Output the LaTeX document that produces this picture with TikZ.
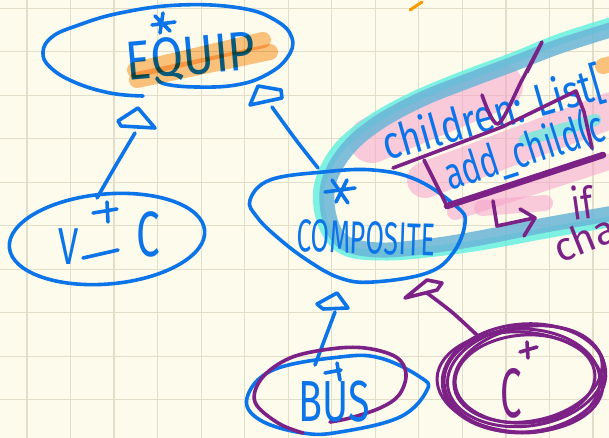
\documentclass[tikz,border=0pt]{standalone}
\usepackage{fontspec}
\setmainfont{Fira Sans}
\usetikzlibrary{calc}
\definecolor{paper}{HTML}{FDFBEC}
\definecolor{gridc}{HTML}{E2DECA}
\definecolor{pen}{HTML}{0C74E9}
\definecolor{plum}{HTML}{7C2186}
\definecolor{hlorange}{HTML}{FCC585}
\definecolor{hlpink}{HTML}{F7A3CB}
\definecolor{hlcyan}{HTML}{5EF0E0}
\definecolor{hlsteel}{HTML}{6BB5D7}
\tikzset{
  bluepen/.style={draw=pen, line width=3.6pt, line cap=round, line join=round},
  plumpen/.style={draw=plum, line width=3.6pt, line cap=round, line join=round},
  hilite/.style={line width=#1, line cap=round, line join=round},
  hand/.style={font=\fontsize{#1}{#1}\selectfont, inner sep=0pt},
}
\begin{document}
\begin{tikzpicture}[x=1pt,y=-1pt]
\useasboundingbox (0,0) rectangle (609,438);
\clip (0,0) rectangle (609,438);
% paper and grid
\fill[paper] (0,0) rectangle (609,438);
\foreach \i in {0,...,13} \draw[gridc, line width=1.2pt] ({27+43.54*\i},0) -- ++(0,438);
\foreach \j in {0,...,9} \draw[gridc, line width=1.2pt] (0,{8.3+43.5*\j}) -- ++(609,0);

% highlighter strokes behind the note on COMPOSITE
\begin{scope}[opacity=0.55]
  \draw[hlpink, hilite=46pt] (372,140) -- (500,86);
  \draw[hlpink, hilite=36pt] (425,180) -- (612,110);
  \draw[hlpink, hilite=16pt] (455,212) -- (615,160);
  \draw[hlpink, hilite=16pt] (482,208) -- (545,203);
\end{scope}
\draw[hlcyan, hilite=11pt, opacity=0.8] plot[smooth, tension=0.6] coordinates {
  (620,20) (560,39) (513,58) (467,75) (414,97) (369,122) (336,151) (319,188)
  (324,226) (345,250) (386,255) (436,251) (486,244) (546,233) (620,220)};
\draw[hlsteel, hilite=15pt, opacity=0.85] plot[smooth, tension=0.6] coordinates {
  (620,27) (560,46) (513,64) (470,80) (420,100) (375,125) (345,152) (328,185)
  (330,220) (345,243) (380,250) (430,246) (480,238) (540,226) (620,212)};
\draw[hlcyan, hilite=12pt, opacity=0.7] (525,140) -- (595,120);

% EQUIP
\draw[bluepen] plot[smooth, tension=0.7] coordinates {
  (143,96) (110,93) (74,82) (50,67) (43,52) (52,37) (76,26) (120,13) (180,5)
  (240,8) (275,20) (292,38) (287,58) (266,75) (236,85) (196,87) (165,84) (157,78)};
\node[hand=55, text=pen, rotate=5] (equipT) at (191,58) {\scalebox{0.86}[1]{EQUIP}};
\draw[bluepen] (163,13) -- (160,33) (152,25) -- (175,22) (155,16) -- (170,31);
\begin{scope}[blend mode=multiply]
  \draw[hlorange, hilite=16pt] (135,70) -- (263,40);
  \draw[hlorange, hilite=16pt] (137,80) -- (270,52);
  \draw[hlorange, hilite=16pt] (603,66) -- (615,63);
\end{scope}
\draw[draw=orange!80!yellow, line width=3pt, line cap=round] (410,10) -- (422,2);

% V-C
\draw[bluepen, rotate around={5:(107,239)}] (107,239) ellipse [x radius=98, y radius=45];
\node[hand=52, text=pen] (vT) at (69,247) {\scalebox{0.7}[1]{V}};
\node[hand=64, text=pen] (cT) at (148,234) {\scalebox{0.66}[1]{C}};
\draw[bluepen] (83,258) -- (118,250);
\draw[bluepen] (93,213) -- (117,209) (107,202) -- (108,222);

% COMPOSITE
\draw[bluepen] plot[smooth cycle, tension=0.65] coordinates {
  (250,200) (270,180) (323,172) (373,170) (417,180) (457,207) (465,223)
  (453,253) (427,273) (373,282) (340,278) (307,260) (277,237) (257,217)};
\node[hand=46, text=pen, rotate=-2] (compT) at (366,238) {\scalebox{0.58}[1]{COMPOSITE}};
\draw[bluepen] (325,192) -- (355,188) (332,180) -- (348,203) (347,180) -- (336,202);

% note on COMPOSITE
\node[hand=46, text=pen, anchor=base west, rotate=16] (kids) at (387,161) {\scalebox{0.8}[1]{children: List[}};
\node[hand=45, text=pen, anchor=base west, rotate=18] (addc) at (450,191) {\scalebox{0.7}[1]{add\_child(c}};
\draw[plumpen] (393,168) -- (502,127) -- (576,91) -- (584,112) -- (592,148);
\draw[plumpen] (424,160) -- (447,206);
\draw[plumpen, line width=6.5pt] (447,206) -- (603,155);
\draw[plumpen] plot[smooth, tension=0.5] coordinates {(482,95) (498,124) (522,80) (542,42) (527,72)};
\draw[plumpen] (493,201) -- (497,226) -- (534,218);
\draw[plumpen] (520,209) -- (535,218) -- (524,236);
\node[hand=44, text=plum, rotate=8] (iff) at (582,202) {\scalebox{0.8}[1]{if}};
\node[hand=40, text=plum, anchor=base west, rotate=22] (cha) at (560,264) {cha};

% inheritance arrows
\coordinate (t1a) at (138,108); \coordinate (t1b) at (155,128); \coordinate (t1c) at (121,126); \coordinate (t1d) at (118,121);
\draw[bluepen] (t1a) -- (t1b) -- (t1c) -- (t1d) -- cycle;
\coordinate (l1a) at (135,133); \coordinate (l1b) at (116,165); \coordinate (l1c) at (97,198);
\draw[bluepen] plot[smooth] coordinates {(l1a) (l1b) (l1c)};

\coordinate (t2a) at (258,86); \coordinate (t2b) at (250,105); \coordinate (t2c) at (282,98); \coordinate (t2d) at (281,90);
\draw[bluepen] (t2a) -- (t2b) -- (t2c) -- (t2d) -- cycle;
\coordinate (l2a) at (272,107); \coordinate (l2b) at (296,140); \coordinate (l2c) at (318,168);
\draw[bluepen] plot[smooth] coordinates {(l2a) (l2b) (l2c)};

\coordinate (t3a) at (337,293); \coordinate (t3b) at (348,308); \coordinate (t3c) at (323,309); \coordinate (t3d) at (317,304);
\draw[bluepen] (t3a) -- (t3b) -- (t3c) -- (t3d) -- cycle;
\coordinate (l3a) at (335,312); \coordinate (l3b) at (315,365);
\draw[bluepen] (l3a) -- (l3b);

\coordinate (t4a) at (405,298); \coordinate (t4b) at (427,280); \coordinate (t4c) at (442,283); \coordinate (t4d) at (437,290);
\draw[plumpen] (t4a) -- (t4b) -- (t4c) -- (t4d) -- cycle;
\coordinate (l4a) at (427,293); \coordinate (l4b) at (453,313); \coordinate (l4c) at (480,338);
\draw[plumpen] plot[smooth] coordinates {(l4a) (l4b) (l4c)};

% BUS
\draw[bluepen] plot[smooth cycle, tension=0.65] coordinates {
  (247,398) (273,370) (340,357) (380,358) (420,377) (427,390) (400,417) (340,432) (303,433) (260,420)};
\draw[plumpen] plot[smooth, tension=0.6] coordinates {
  (303,433) (278,423) (255,402) (262,378) (290,358) (330,349) (365,348) (396,357) (406,374) (399,395) (380,408) (350,418) (330,422)};
\node[hand=58, text=pen] (busT) at (334,402) {\scalebox{0.68}[1]{BUS}};
\draw[bluepen] (325,373) -- (341,370) (337,363) -- (340,380);

% C
\foreach \cx/\cy/\rx/\ry/\a in {524/378/82/54/5, 526/376/79/50/8, 522/381/78/52/0, 528/374/75/47/11, 520/382/83/50/-3, 525/379/70/44/4}
  \draw[plumpen, line width=3pt, rotate around={\a:(\cx,\cy)}] (\cx,\cy) ellipse [x radius=\rx, y radius=\ry];
\node[hand=70, text=plum] (cPlum) at (511,393) {\scalebox{0.55}[1]{C}};
\draw[plumpen] (520,352) -- (537,347) (527,342) -- (528,358);
\end{tikzpicture}
\end{document}
